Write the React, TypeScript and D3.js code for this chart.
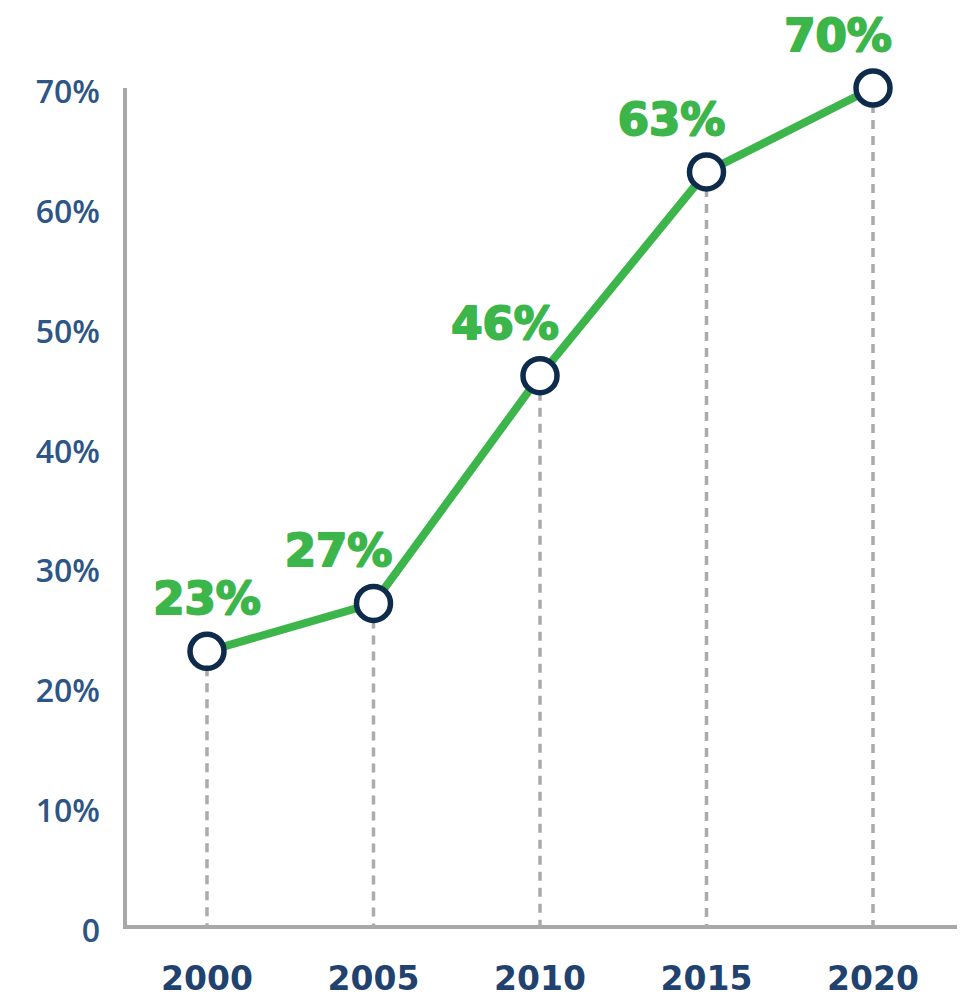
import React, { useEffect, useRef } from "react";
import * as d3 from "d3";

const years = ["2000", "2005", "2010", "2015", "2020"];
const values = [23, 27, 46, 63, 70];
const yTicks = [0, 10, 20, 30, 40, 50, 60, 70];

const W = 960;
const H = 1000;

export default function App() {
  const ref = useRef<SVGSVGElement | null>(null);

  useEffect(() => {
    const svg = d3.select(ref.current);
    svg.selectAll("*").remove();

    const x = d3.scalePoint<string>().domain(years).range([207, 873]);
    const y = d3.scaleLinear().domain([0, 70]).range([927, 88]);

    // axes lines
    svg.append("line")
      .attr("x1", 125).attr("x2", 125)
      .attr("y1", y(70)).attr("y2", y(0) + 2)
      .attr("stroke", "#a8a8a8").attr("stroke-width", 4);
    svg.append("line")
      .attr("x1", 123).attr("x2", 957)
      .attr("y1", y(0)).attr("y2", y(0))
      .attr("stroke", "#a8a8a8").attr("stroke-width", 4);

    // y tick labels
    svg.append("g").selectAll("text").data(yTicks).join("text")
      .attr("x", 100)
      .attr("y", (d) => y(d) + 15)
      .attr("text-anchor", "end")
      .attr("font-family", "'Open Sans', sans-serif")
      .attr("font-weight", 600)
      .attr("font-size", 32)
      .attr("fill", "#2d5586")
      .text((d) => (d === 0 ? "0" : `${d}%`));

    // x tick labels
    svg.append("g").selectAll("text").data(years).join("text")
      .attr("x", (d) => x(d)!)
      .attr("y", 990)
      .attr("text-anchor", "middle")
      .attr("font-family", "'DejaVu Sans', sans-serif")
      .attr("font-weight", 700)
      .attr("font-size", 33)
      .attr("fill", "#1f426f")
      .text((d) => d);

    // dashed drop lines
    svg.append("g").selectAll("line").data(values).join("line")
      .attr("x1", (_, i) => x(years[i])!)
      .attr("x2", (_, i) => x(years[i])!)
      .attr("y1", (d) => y(d))
      .attr("y2", y(0))
      .attr("stroke", "#aaaaaa")
      .attr("stroke-width", 3.5)
      .attr("stroke-dasharray", "9 7");

    // line
    const line = d3.line<number>()
      .x((_, i) => x(years[i])!)
      .y((d) => y(d));
    svg.append("path")
      .datum(values)
      .attr("d", line)
      .attr("fill", "none")
      .attr("stroke", "#3cb54a")
      .attr("stroke-width", 8)
      .attr("stroke-linejoin", "round");

    // points
    svg.append("g").selectAll("circle").data(values).join("circle")
      .attr("cx", (_, i) => x(years[i])!)
      .attr("cy", (d) => y(d))
      .attr("r", 17)
      .attr("fill", "#ffffff")
      .attr("stroke", "#0f2b4c")
      .attr("stroke-width", 5.5);

    // value labels
    svg.append("g").selectAll("text").data(values).join("text")
      .attr("x", (_, i) => x(years[i])! + (i === 0 ? 0 : -35))
      .attr("y", (d) => y(d) - 37)
      .attr("text-anchor", "middle")
      .attr("font-family", "'DejaVu Sans', sans-serif")
      .attr("font-weight", 700)
      .attr("font-size", 45)
      .attr("fill", "#3cb54a")
      .attr("stroke", "#3cb54a")
      .attr("stroke-width", 2)
      .attr("stroke-linejoin", "round")
      .text((d) => `${d}%`);
  }, []);

  return (
    <svg
      ref={ref}
      width={W}
      height={H}
      style={{ position: "absolute", left: 0, top: 0, background: "#fff" }}
    />
  );
}
